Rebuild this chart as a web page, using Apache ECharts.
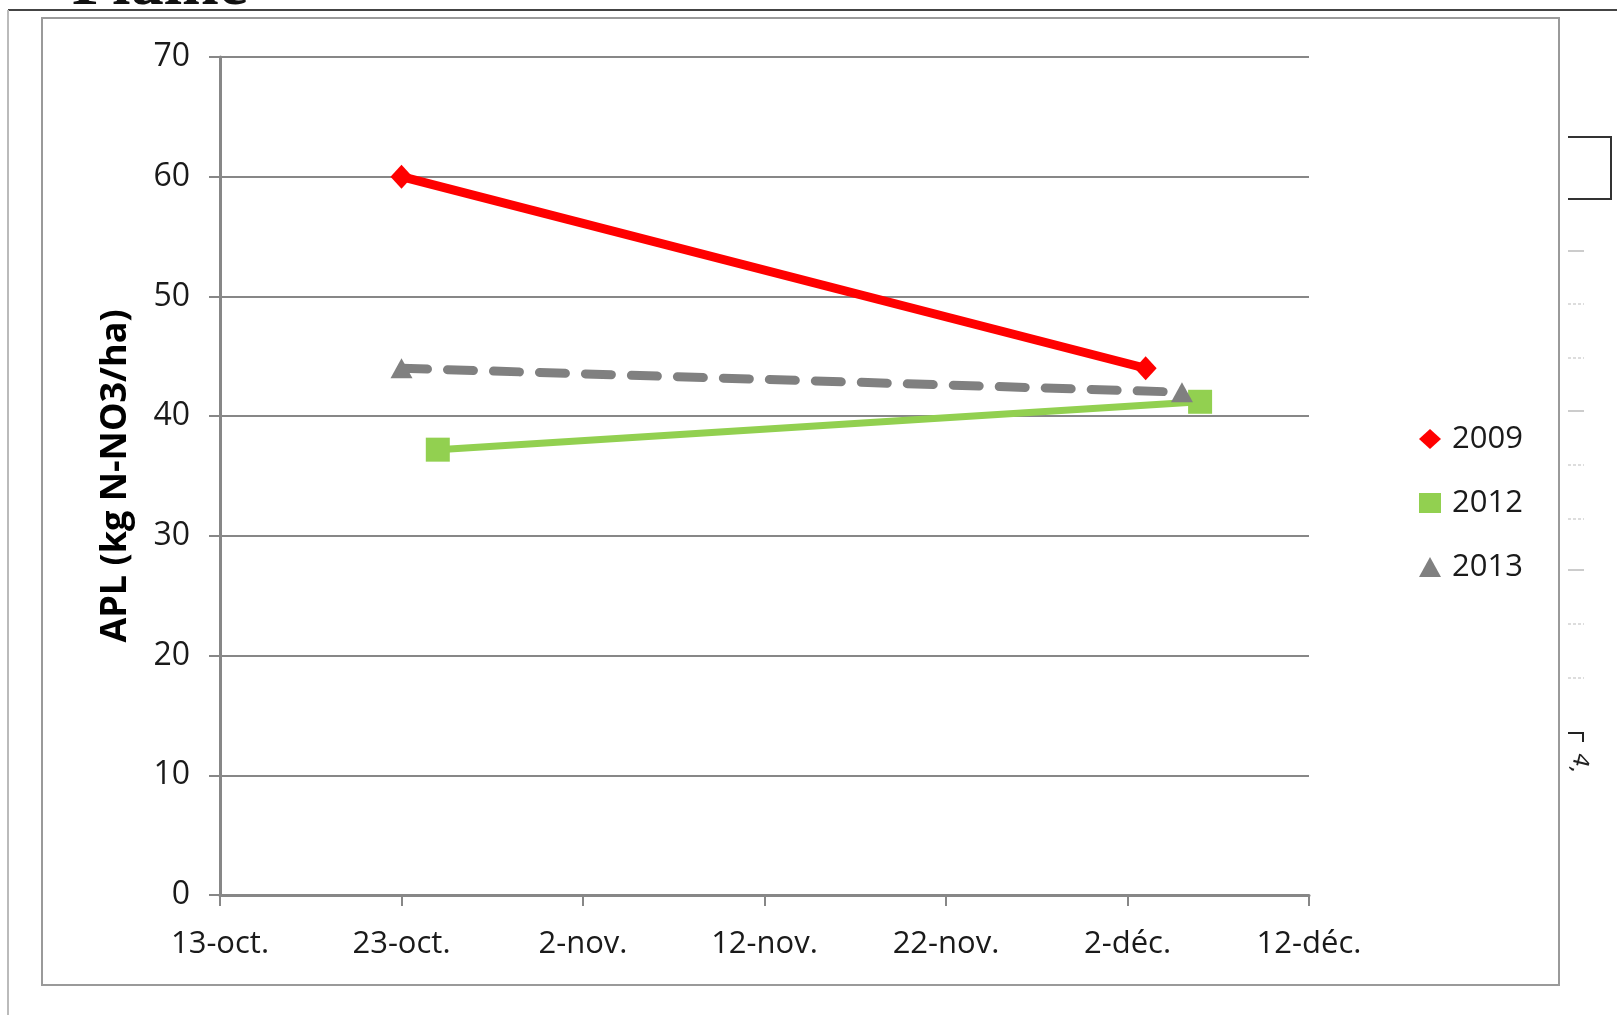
<!DOCTYPE html>
<html>
<head>
<meta charset="utf-8">
<title>APL</title>
<script src="https://cdn.jsdelivr.net/npm/echarts@6/dist/echarts.min.js"></script>
<style>
    html, body {margin: 0; padding: 0; background: #fff;}
    #apl-chart {width: 1617px; height: 1015px;}
</style>
</head>
<body>
<div id="apl-chart"></div>
<script>
// axe des x : un repère tous les 10 jours depuis le 13 octobre
const xTickLabels = ['13-oct.', '23-oct.', '2-nov.', '12-nov.', '22-nov.', '2-déc.', '12-déc.'];
const yTicks = [0, 10, 20, 30, 40, 50, 60, 70];

// dates de prélèvement (mois-jour) et APL mesurés
const dates2009 = ['10-23', '12-03'];
const apl2009 = [60, 44];
const dates2012 = ['10-25', '12-06'];
const apl2012 = [37.2, 41.2];
const dates2013 = ['10-23', '12-05'];
const apl2013 = [44, 42];

const DAY = 86400000;
const startDay = Date.UTC(2013, 9, 13);

// jours écoulés depuis le 13 octobre
const toDay = (md) => {
    const [m, d] = md.split('-').map(Number);
    return Math.round((Date.UTC(2013, m - 1, d) - startDay) / DAY);
};
const pair = (dates, vals) => dates.map((d, i) => [toDay(d), vals[i]]);

const axisGrey = '#878787';
const font = "'Open Sans', 'Noto Sans', sans-serif";

const chart = echarts.init(document.getElementById('apl-chart'));

const option = {
    backgroundColor: '#fff',
    animation: false,
    grid: {left: 220, right: 308, top: 57, bottom: 120},
    legend: {
        orient: 'vertical',
        left: 1414,
        top: 416,
        itemWidth: 22,
        itemHeight: 20,
        itemGap: 28,
        textStyle: {fontFamily: font, fontSize: 31, color: '#1a1a1a', lineHeight: 36, padding: [0, 0, 0, 6]},
        data: [
            {name: '2009', icon: 'diamond'},
            {name: '2012', icon: 'rect'},
            {name: '2013', icon: 'triangle'}
        ]
    },
    xAxis: {
        type: 'value',
        min: 0,
        max: (xTickLabels.length - 1) * 10,
        interval: 10,
        axisLine: {lineStyle: {color: axisGrey, width: 3}},
        axisTick: {show: true, length: 11, lineStyle: {color: axisGrey, width: 2}},
        splitLine: {show: false},
        axisLabel: {
            margin: 34,
            fontFamily: font,
            fontSize: 31,
            color: '#1a1a1a',
            formatter: (v) => xTickLabels[Math.round(v / 10)]
        }
    },
    yAxis: {
        type: 'value',
        min: yTicks[0],
        max: yTicks[yTicks.length - 1],
        interval: 10,
        name: 'APL (kg N-NO3/ha)',
        nameLocation: 'middle',
        nameGap: 86,
        nameTextStyle: {fontFamily: font, fontSize: 36, fontWeight: 'bold', color: '#000'},
        axisLine: {show: true, lineStyle: {color: axisGrey, width: 3}},
        axisTick: {show: true, length: 11, lineStyle: {color: axisGrey, width: 2}},
        splitLine: {lineStyle: {color: axisGrey, width: 2}},
        axisLabel: {margin: 30, fontFamily: font, fontSize: 32, color: '#1a1a1a'}
    },
    series: [
        {
            name: '2009',
            type: 'line',
            data: pair(dates2009, apl2009),
            symbol: 'diamond',
            symbolSize: [22, 24],
            color: '#ff0000',
            lineStyle: {color: '#ff0000', width: 9},
            itemStyle: {color: '#ff0000'}
        },
        {
            name: '2012',
            type: 'line',
            data: pair(dates2012, apl2012),
            symbol: 'rect',
            symbolSize: 24,
            color: '#92d050',
            lineStyle: {color: '#92d050', width: 7},
            itemStyle: {color: '#92d050'}
        },
        {
            name: '2013',
            type: 'line',
            data: pair(dates2013, apl2013),
            symbol: 'triangle',
            symbolSize: [22, 20],
            color: '#808080',
            lineStyle: {color: '#808080', width: 9, type: [26, 20], cap: 'round'},
            itemStyle: {color: '#808080'}
        }
    ],
    graphic: [
        // bords de la page / du cadre
        {type: 'line', shape: {x1: 8, y1: 10, x2: 1617, y2: 10}, style: {stroke: '#444', lineWidth: 2}, silent: true},
        {type: 'line', shape: {x1: 8, y1: 10, x2: 8, y2: 1015}, style: {stroke: '#bbb', lineWidth: 2}, silent: true},
        {type: 'rect', shape: {x: 42, y: 18, width: 1517, height: 967}, style: {fill: 'none', stroke: '#9a9a9a', lineWidth: 2}, silent: true},
        // titre coupé en haut
        {type: 'text', x: 72, y: 20, z: -1, style: {text: 'Plaine', font: 'bold 66px "Liberation Serif", serif', fill: '#111', verticalAlign: 'bottom'}, silent: true},
        // restes à droite du cadre
        {type: 'polyline', shape: {points: [[1568, 137], [1611, 137], [1611, 199], [1568, 199]]}, style: {stroke: '#333', lineWidth: 2, fill: 'none'}, silent: true},
        {type: 'line', shape: {x1: 1568, y1: 251, x2: 1584, y2: 251}, style: {stroke: '#999', lineWidth: 1}, silent: true},
        {type: 'line', shape: {x1: 1568, y1: 304, x2: 1584, y2: 304}, style: {stroke: '#bbb', lineWidth: 1, lineDash: [3, 2]}, silent: true},
        {type: 'line', shape: {x1: 1568, y1: 358, x2: 1584, y2: 358}, style: {stroke: '#bbb', lineWidth: 1, lineDash: [3, 2]}, silent: true},
        {type: 'line', shape: {x1: 1568, y1: 411, x2: 1584, y2: 411}, style: {stroke: '#999', lineWidth: 1}, silent: true},
        {type: 'line', shape: {x1: 1568, y1: 465, x2: 1584, y2: 465}, style: {stroke: '#bbb', lineWidth: 1, lineDash: [3, 2]}, silent: true},
        {type: 'line', shape: {x1: 1568, y1: 519, x2: 1584, y2: 519}, style: {stroke: '#bbb', lineWidth: 1, lineDash: [3, 2]}, silent: true},
        {type: 'line', shape: {x1: 1568, y1: 570, x2: 1584, y2: 570}, style: {stroke: '#999', lineWidth: 1}, silent: true},
        {type: 'line', shape: {x1: 1568, y1: 624, x2: 1584, y2: 624}, style: {stroke: '#bbb', lineWidth: 1, lineDash: [3, 2]}, silent: true},
        {type: 'line', shape: {x1: 1568, y1: 678, x2: 1584, y2: 678}, style: {stroke: '#bbb', lineWidth: 1, lineDash: [3, 2]}, silent: true},
        {type: 'polyline', shape: {points: [[1568, 733], [1583, 733], [1583, 742]]}, style: {stroke: '#222', lineWidth: 2, fill: 'none'}, silent: true},
        {type: 'text', x: 1592, y: 756, rotation: -Math.PI / 2 - 0.25, style: {text: '4,', font: '22px "DejaVu Sans", sans-serif', fill: '#222'}, silent: true}
    ]
};

chart.setOption(option);
</script>
</body>
</html>
